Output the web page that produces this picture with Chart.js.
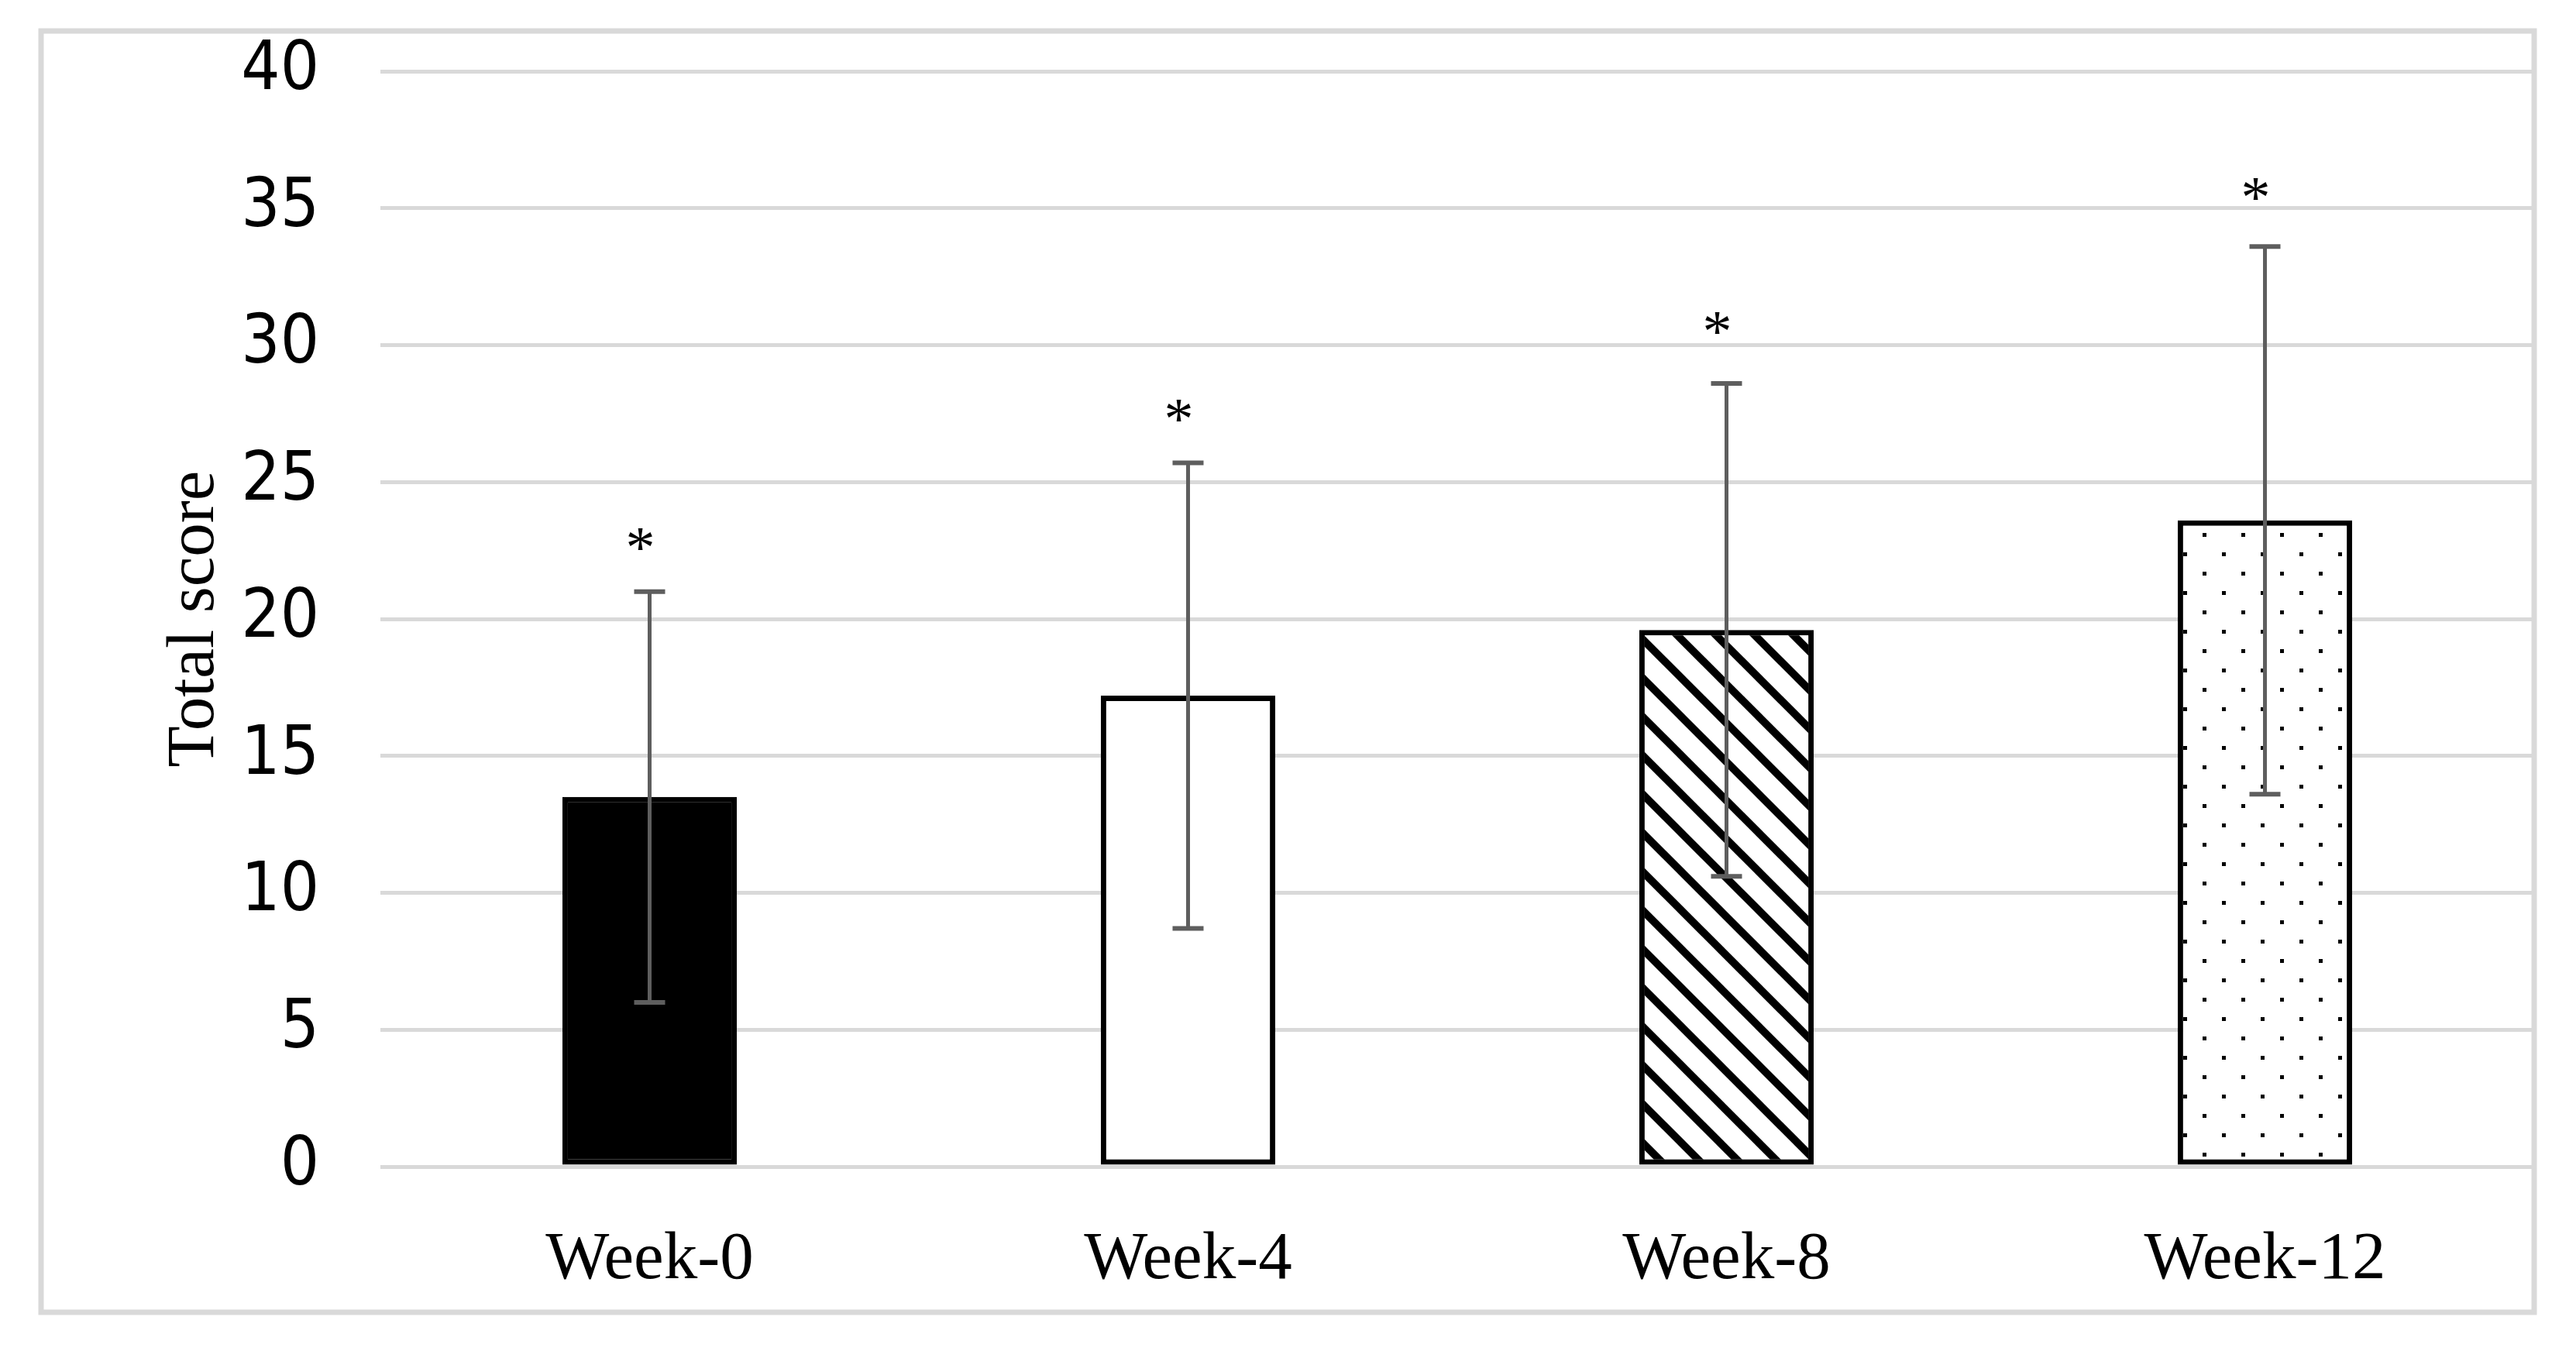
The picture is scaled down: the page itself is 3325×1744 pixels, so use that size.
<!DOCTYPE html>
<html>
<head>
<meta charset="utf-8">
<script src="https://cdn.jsdelivr.net/npm/chart.js@4.4.1/dist/chart.umd.min.js"></script>
<style>
  html, body { margin: 0; padding: 0; background: #fff; }
  #wrap { width: 3325px; height: 1744px; }
</style>
</head>
<body>
<div id="wrap"><canvas id="c" width="3325" height="1744"></canvas></div>
<script>
// ---- data ----
const categories = ['Week-0', 'Week-4', 'Week-8', 'Week-12'];
const meanScores = [13.5, 17.2, 19.6, 23.6];
const sdScores = [7.5, 8.5, 9.0, 10.0];
const asteriskAt = [22.9, 27.6, 30.8, 35.7];
const yTicks = [0, 5, 10, 15, 20, 25, 30, 35, 40];

const canvas = document.getElementById('c');
const ctx = canvas.getContext('2d');

function hatchPattern() {
  const c = document.createElement('canvas'); c.width = 50; c.height = 50;
  const g = c.getContext('2d');
  g.fillStyle = '#fff'; g.fillRect(0, 0, 50, 50);
  g.strokeStyle = '#000'; g.lineWidth = 10;
  for (let k = -2; k <= 2; k++) {
    const o = k * 50 + 45;
    g.beginPath(); g.moveTo(o - 20, -20); g.lineTo(o + 70, 70); g.stroke();
  }
  return ctx.createPattern(c, 'repeat');
}
function dotPattern() {
  const c = document.createElement('canvas'); c.width = 50; c.height = 50;
  const g = c.getContext('2d');
  g.fillStyle = '#fff'; g.fillRect(0, 0, 50, 50);
  g.fillStyle = '#000';
  g.fillRect(18, 13, 5, 5);
  g.fillRect(43, 38, 5, 5);
  return ctx.createPattern(c, 'repeat');
}

const fills = ['#000000', '#ffffff', hatchPattern(), dotPattern()];

const framePlugin = {
  id: 'frame',
  beforeDraw(chart) {
    const g = chart.ctx;
    g.save(); g.fillStyle = '#fff'; g.fillRect(0, 0, chart.width, chart.height); g.restore();
  },
  afterDraw(chart) {
    const g = chart.ctx;
    g.save();
    g.strokeStyle = '#d9d9d9'; g.lineWidth = 7;
    g.strokeRect(53, 40, 3271 - 53, 1694 - 40);
    g.restore();
  }
};

const errorBarPlugin = {
  id: 'errorBars',
  afterDatasetsDraw(chart) {
    const g = chart.ctx;
    const meta = chart.getDatasetMeta(0);
    const ys = chart.scales.y;
    g.save();
    g.strokeStyle = '#5e5e5e';
    meta.data.forEach((bar, i) => {
      const x = bar.x;
      const hi = ys.getPixelForValue(meanScores[i] + sdScores[i]);
      const lo = ys.getPixelForValue(meanScores[i] - sdScores[i]);
      g.lineWidth = 5;
      g.beginPath(); g.moveTo(x, hi); g.lineTo(x, lo); g.stroke();
      g.lineWidth = 6;
      g.beginPath(); g.moveTo(x - 20, hi); g.lineTo(x + 20, hi); g.stroke();
      g.beginPath(); g.moveTo(x - 20, lo); g.lineTo(x + 20, lo); g.stroke();
    });
    // asterisks
    g.fillStyle = '#000';
    g.font = '76px "Liberation Serif", "DejaVu Serif", serif';
    g.textAlign = 'center';
    g.textBaseline = 'alphabetic';
    meta.data.forEach((bar, i) => {
      const y = ys.getPixelForValue(asteriskAt[i]);
      g.fillText('*', bar.x - 12, y + 36);
    });
    g.restore();
  }
};

new Chart(ctx, {
  type: 'bar',
  data: {
    labels: categories,
    datasets: [{
      data: meanScores,
      backgroundColor: fills,
      borderColor: '#000',
      borderWidth: 7,
      borderSkipped: false,
      categoryPercentage: 1.0,
      barPercentage: 0.324
    }]
  },
  options: {
    responsive: false,
    animation: false,
    devicePixelRatio: 1,
    layout: { padding: { left: 150, right: 54, top: 92, bottom: 20 } },
    plugins: { legend: { display: false }, tooltip: { enabled: false } },
    scales: {
      x: {
        grid: { display: false, drawTicks: false },
        border: { display: false },
        ticks: {
          color: '#000',
          padding: 69,
          font: { family: '"Liberation Serif", "DejaVu Serif", serif', size: 87 }
        },
        afterFit(scale) { scale.height = 1744 - 20 - 1506; }
      },
      y: {
        min: 0, max: 40,
        afterBuildTicks(scale) { scale.ticks = yTicks.map(v => ({ value: v })); },
        grid: { color: '#d9d9d9', lineWidth: 5, drawTicks: false },
        border: { display: false },
        ticks: {
          color: '#000',
          padding: 79,
          font: { family: '"DejaVu Sans Condensed", "Liberation Sans Narrow", "Open Sans", sans-serif', size: 88, lineHeight: 0.2 }
        },
        title: {
          display: true,
          text: 'Total score',
          color: '#000',
          padding: { top: 50, bottom: 0 },
          font: { family: '"Liberation Serif", "DejaVu Serif", serif', size: 87 }
        },
        afterFit(scale) { scale.width = 491 - 150; }
      }
    }
  },
  plugins: [framePlugin, errorBarPlugin]
});
</script>
</body>
</html>
